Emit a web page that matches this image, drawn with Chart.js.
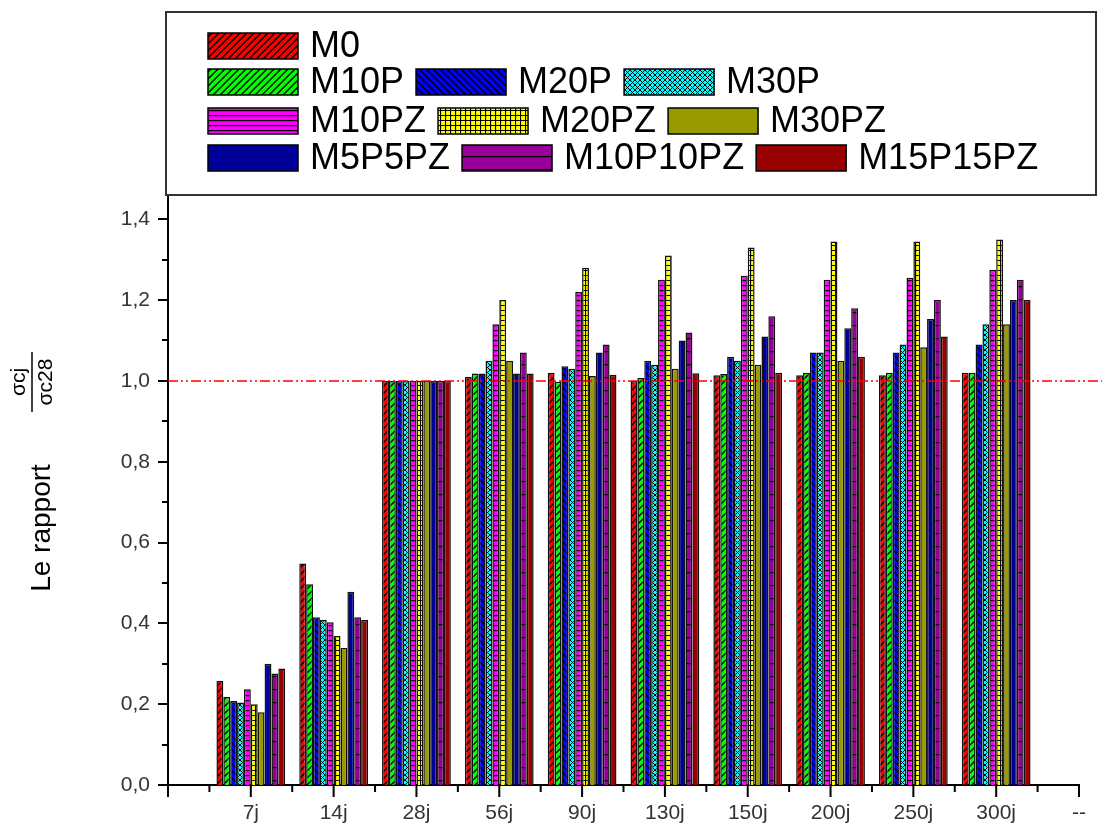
<!DOCTYPE html>
<html>
<head>
<meta charset="utf-8">
<script src="https://cdn.jsdelivr.net/npm/chart.js@4.4.0/dist/chart.umd.min.js"></script>
<style>
  html, body { margin: 0; padding: 0; background: #fff; }
</style>
</head>
<body>
<canvas id="chart" width="1102" height="828"></canvas>
<script>
// ages (first and last slots are the empty axis ends of the original plot)
const ages = ['', '7j', '14j', '28j', '56j', '90j', '130j', '150j', '200j', '250j', '300j', '--'];
const mixes = ['M0', 'M10P', 'M20P', 'M30P', 'M10PZ', 'M20PZ', 'M30PZ', 'M5P5PZ', 'M10P10PZ', 'M15P15PZ'];

// sigma_cj / sigma_c28, values for 7j ... 300j
const m0       = [0.258, 0.548, 1.00, 1.010, 1.020, 1.000, 1.014, 1.014, 1.014, 1.020];
const m10p     = [0.218, 0.497, 1.00, 1.018, 0.998, 1.007, 1.017, 1.020, 1.020, 1.020];
const m20p     = [0.208, 0.415, 1.00, 1.018, 1.036, 1.050, 1.060, 1.070, 1.070, 1.090];
const m30p     = [0.204, 0.408, 1.00, 1.050, 1.030, 1.040, 1.050, 1.070, 1.090, 1.140];
const m10pz    = [0.237, 0.403, 1.00, 1.140, 1.220, 1.250, 1.260, 1.250, 1.255, 1.275];
const m20pz    = [0.200, 0.369, 1.00, 1.200, 1.280, 1.310, 1.330, 1.345, 1.345, 1.350];
const m30pz    = [0.180, 0.339, 1.00, 1.050, 1.012, 1.030, 1.040, 1.050, 1.083, 1.140];
const m5p5pz   = [0.300, 0.478, 1.00, 1.018, 1.070, 1.100, 1.110, 1.130, 1.153, 1.200];
const m10p10pz = [0.276, 0.415, 1.00, 1.070, 1.090, 1.120, 1.160, 1.180, 1.200, 1.250];
const m15p15pz = [0.288, 0.408, 1.00, 1.018, 1.015, 1.019, 1.020, 1.060, 1.110, 1.200];

const series = [m0, m10p, m20p, m30p, m10pz, m20pz, m30pz, m5p5pz, m10p10pz, m15p15pz];
const refValue = 1.0;

// fill colours and hatch kinds, same order as mixes
const colors = ['#ff0000', '#00ff00', '#0000ff', '#00ffff', '#ff00ff', '#ffff00', '#999900', '#000099', '#990099', '#990000'];
const hatches = ['fwd', 'fwd', 'back', 'cross', 'hlines', 'grid', null, null, 'hsparse', null];

function makePattern(kind, bg) {
  if (!kind) return bg;
  const c = document.createElement('canvas');
  let w = 7, h = 7, lw = 1.4;
  if (kind === 'cross') { w = 5; h = 5; lw = 1; }
  if (kind === 'hlines') { w = 4; h = 5; }
  if (kind === 'grid') { w = 5; h = 5; lw = 1.2; }
  if (kind === 'hsparse') { w = 4; h = 13; lw = 1.5; }
  c.width = w; c.height = h;
  const g = c.getContext('2d');
  g.fillStyle = bg;
  g.fillRect(0, 0, w, h);
  g.strokeStyle = '#000';
  g.lineWidth = lw;
  g.beginPath();
  if (kind === 'fwd' || kind === 'cross') {
    g.moveTo(-1, h + 1); g.lineTo(w + 1, -1);
    g.moveTo(-1, 1); g.lineTo(1, -1);
    g.moveTo(w - 1, h + 1); g.lineTo(w + 1, h - 1);
  }
  if (kind === 'back' || kind === 'cross') {
    g.moveTo(-1, -1); g.lineTo(w + 1, h + 1);
    g.moveTo(w - 1, -1); g.lineTo(w + 1, 1);
    g.moveTo(-1, h - 1); g.lineTo(1, h + 1);
  }
  if (kind === 'hlines' || kind === 'hsparse' || kind === 'grid') {
    g.moveTo(0, 0.5); g.lineTo(w, 0.5);
  }
  if (kind === 'grid') {
    g.moveTo(0.5, 0); g.lineTo(0.5, h);
  }
  g.stroke();
  return g.createPattern(c, 'repeat');
}

const fills = colors.map((col, i) => makePattern(hatches[i], col));

const datasets = mixes.map((name, i) => ({
  label: name,
  data: [null, ...series[i], null],
  backgroundColor: fills[i],
  borderColor: '#111',
  borderWidth: 1.5,
  categoryPercentage: 0.83,
  barPercentage: 1
}));

const tickFont = { family: 'Liberation Sans, Arial, sans-serif', size: 21 };

// axis ticks, reference line, axis title and the boxed legend
const decor = {
  id: 'decor',
  afterDatasetsDraw(chart) {
    const { ctx, chartArea, scales: { x, y } } = chart;
    ctx.save();

    // dash-dot-dot line at 1,0
    const yRef = y.getPixelForValue(refValue);
    ctx.strokeStyle = '#ff0000';
    ctx.lineWidth = 1.5;
    ctx.setLineDash([10, 3, 2, 3, 2, 3]);
    ctx.beginPath();
    ctx.moveTo(chartArea.left, yRef);
    ctx.lineTo(chart.width, yRef);
    ctx.stroke();
    ctx.setLineDash([]);

    // y ticks, major every 0,2 and minor every 0,1
    ctx.strokeStyle = '#000';
    ctx.lineWidth = 2;
    ctx.beginPath();
    for (let k = 0; k <= 14; k++) {
      const py = Math.round(y.getPixelForValue(k / 10));
      const len = k % 2 === 0 ? 10 : 6;
      ctx.moveTo(chartArea.left - len, py);
      ctx.lineTo(chartArea.left, py);
    }
    // x ticks, major on each age, minor between
    for (let i = 0; i < ages.length; i++) {
      const px = x.getPixelForValue(i);
      ctx.moveTo(px, chartArea.bottom);
      ctx.lineTo(px, chartArea.bottom + 12);
      if (i < ages.length - 1) {
        const mid = (px + x.getPixelForValue(i + 1)) / 2;
        ctx.moveTo(mid, chartArea.bottom);
        ctx.lineTo(mid, chartArea.bottom + 7);
      }
    }
    ctx.stroke();

    // y title: Le rapport  sigma_cj / sigma_c28
    ctx.fillStyle = '#000';
    ctx.textAlign = 'center';
    ctx.textBaseline = 'middle';
    ctx.save();
    ctx.translate(42, 528);
    ctx.rotate(-Math.PI / 2);
    ctx.font = '28px "Liberation Sans", Arial, sans-serif';
    ctx.fillText('Le rapport', 0, 0);
    ctx.restore();

    ctx.save();
    ctx.translate(32, 382);
    ctx.rotate(-Math.PI / 2);
    ctx.font = '21px "Liberation Sans", Arial, sans-serif';
    ctx.fillText('σcj', 0, -13);
    ctx.fillText('σc28', 0, 14);
    ctx.lineWidth = 1.5;
    ctx.beginPath();
    ctx.moveTo(-30, 0);
    ctx.lineTo(30, 0);
    ctx.stroke();
    ctx.restore();

    // legend box
    ctx.strokeStyle = '#333';
    ctx.lineWidth = 2;
    ctx.strokeRect(166, 12, 930, chartArea.top - 12);

    const rows = [[0], [1, 2, 3], [4, 5, 6], [7, 8, 9]];
    const rowY = [46, 82, 121, 158];
    ctx.font = '36px "Liberation Sans", Arial, sans-serif';
    ctx.textAlign = 'left';
    rows.forEach((row, r) => {
      let lx = 208;
      row.forEach(i => {
        ctx.fillStyle = fills[i];
        ctx.fillRect(lx, rowY[r] - 13, 90, 26);
        ctx.strokeStyle = '#000';
        ctx.lineWidth = 1.5;
        ctx.strokeRect(lx, rowY[r] - 13, 90, 26);
        ctx.fillStyle = '#000';
        ctx.fillText(mixes[i], lx + 102, rowY[r] + 1);
        lx += 102 + ctx.measureText(mixes[i]).width + 12;
      });
    });
    ctx.restore();
  }
};

new Chart(document.getElementById('chart'), {
  type: 'bar',
  data: { labels: ages, datasets },
  options: {
    responsive: false,
    animation: false,
    layout: { padding: { top: 195, right: 6, left: 0, bottom: 0 } },
    plugins: { legend: { display: false }, tooltip: { enabled: false } },
    scales: {
      x: {
        offset: false,
        grid: { display: false, drawTicks: false },
        border: { display: true, color: '#000', width: 2 },
        ticks: { font: tickFont, color: '#333', padding: 16, autoSkip: false, maxRotation: 0 },
        afterFit(s) { s.height = 43; }
      },
      y: {
        min: 0,
        max: 1.46,
        grid: { display: false, drawTicks: false },
        border: { display: true, color: '#000', width: 2 },
        ticks: {
          stepSize: 0.2,
          includeBounds: false,
          font: tickFont,
          color: '#333',
          padding: 18,
          callback: v => v.toFixed(1).replace('.', ',')
        },
        afterFit(s) { s.width = 168; }
      }
    }
  },
  plugins: [decor]
});
</script>
</body>
</html>
